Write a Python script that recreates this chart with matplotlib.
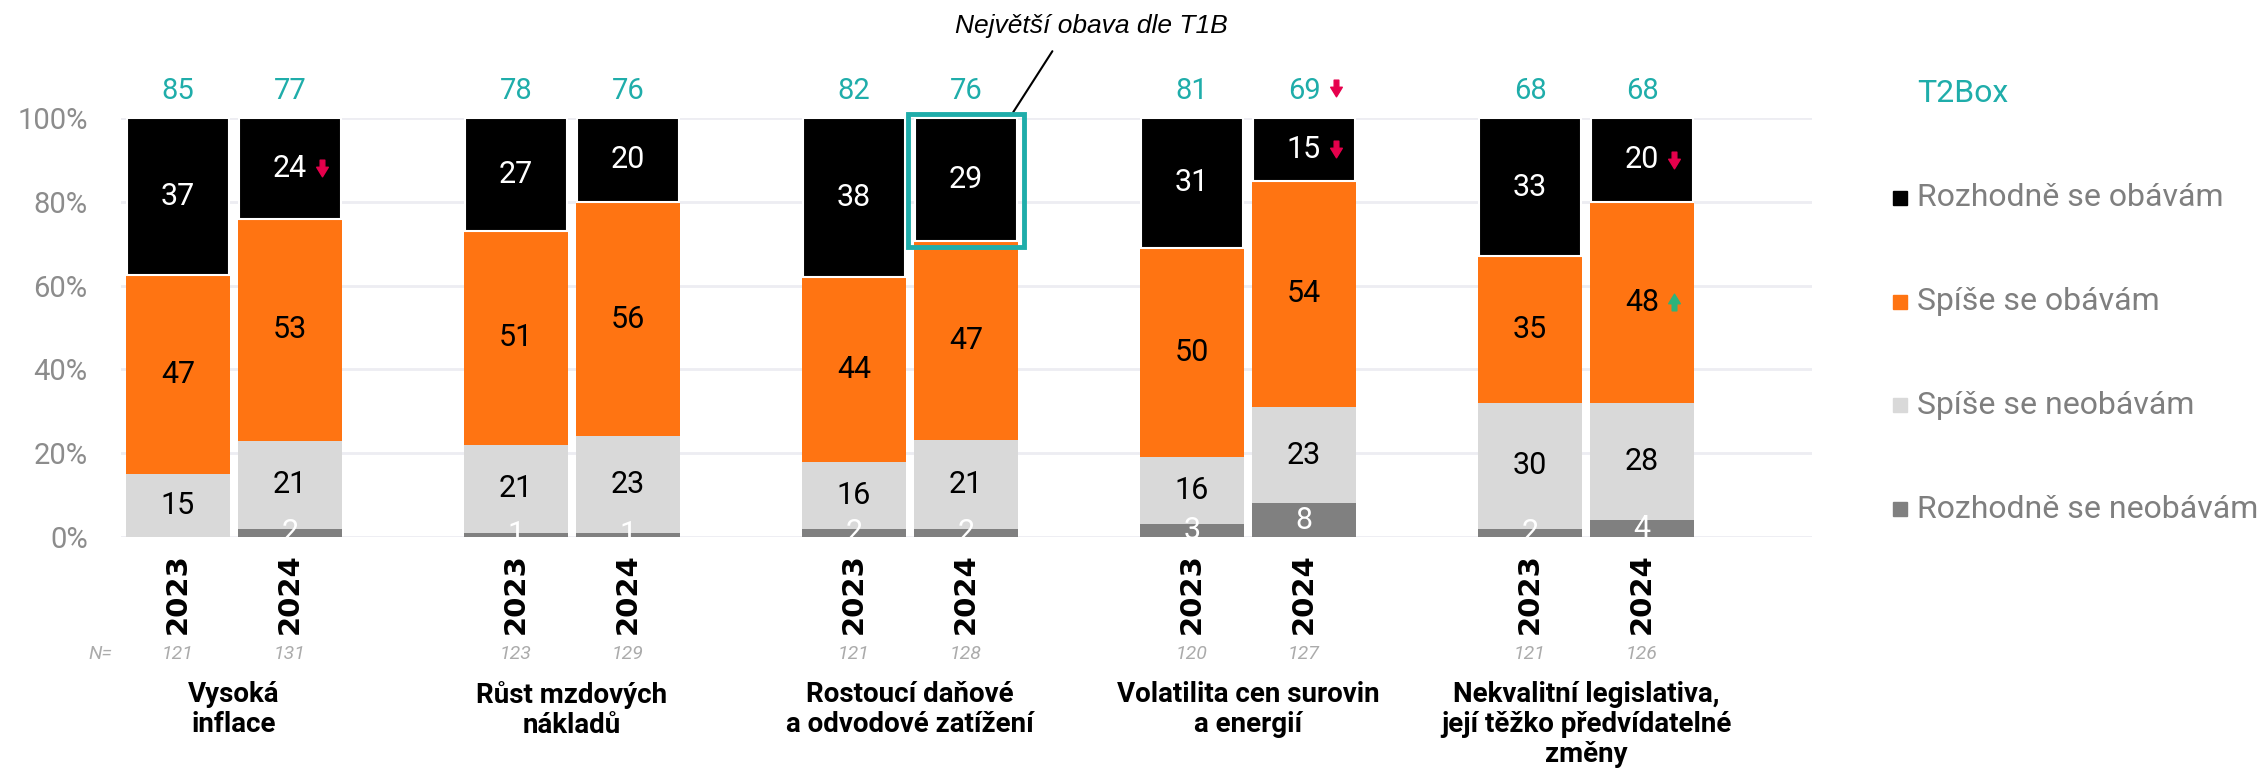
import numpy as np
import matplotlib.pyplot as plt
from matplotlib.patches import Rectangle
from matplotlib.path import Path

# data
categories = ["Vysoká\ninflace", "Růst mzdových\nnákladů", "Rostoucí daňové\na odvodové zatížení",
              "Volatilita cen surovin\na energií", "Nekvalitní legislativa,\njejí těžko předvídatelné\nzměny"]
years = ["2023", "2024"]
series_names = ["Rozhodně se obávám", "Spíše se obávám", "Spíše se neobávám", "Rozhodně se neobávám"]
definitely = [37, 24, 27, 20, 38, 29, 31, 15, 33, 20]
rather = [47, 53, 51, 56, 44, 47, 50, 54, 35, 48]
rather_not = [15, 21, 21, 23, 16, 21, 16, 23, 30, 28]
definitely_not = [0, 2, 1, 1, 2, 2, 3, 8, 2, 4]
t2box = [85, 77, 78, 76, 82, 76, 81, 69, 68, 68]
n_sizes = [121, 131, 123, 129, 121, 128, 120, 127, 121, 126]
# (bar index, which value, direction)
changes = [(1, "definitely", "down"), (7, "definitely", "down"), (7, "t2box", "down"),
           (9, "definitely", "down"), (9, "rather", "up")]
highlight_bar = 5
highlight_text = "Největší obava dle T1B"

# barvy
c_black = "#000000"
c_orange = "#FF7412"
c_lgray = "#D9D9D9"
c_dgray = "#808080"
c_teal = "#1FADAA"
c_red = "#E6004C"
c_green = "#2DB37B"
c_tick = "#8C8C8C"

plt.rcParams['font.family'] = ['Roboto', 'DejaVu Sans']

W, H = 2267, 778
fig = plt.figure(figsize=(W / 100, H / 100), dpi=100)
ax = fig.add_axes([121 / W, 1 - 537 / H, (1812 - 121) / W, 419 / H])

gs = 338.0  # group spacing in px
bw = 102 / gs
off = 56 / gs
x = []
for g in range(len(categories)):
    x += [g - off, g + off]
x = np.array(x)

vals = np.array([definitely_not, rather_not, rather, definitely], dtype=float)
shares = vals / vals.sum(axis=0) * 100
colors = [c_dgray, c_lgray, c_orange, c_black]
txt_colors = ["white", "black", "black", "white"]

bottom = np.zeros(len(x))
centers = {}
for k in range(4):
    if k == 3:
        ax.bar(x, shares[k], bottom=bottom, width=bw, color=colors[k], edgecolor="white", linewidth=1.5, zorder=2)
    else:
        ax.bar(x, shares[k], bottom=bottom, width=bw + 0.004, color=colors[k], linewidth=0, zorder=2)
    mid = bottom + shares[k] / 2
    centers[k] = mid
    for i in range(len(x)):
        if vals[k, i] > 0:
            ax.text(x[i], mid[i], f"{int(vals[k, i])}", ha="center", va="center",
                    color=txt_colors[k], fontsize=22, zorder=4)
    bottom = bottom + shares[k]

ax.set_xlim(-113 / gs, (1812 - 234) / gs)
ax.set_ylim(0, 100)
ax.set_yticks(np.arange(0, 101, 20))
ax.set_yticklabels([f"{v}%" for v in range(0, 101, 20)])
ax.tick_params(axis="y", length=0, pad=24, labelsize=21, labelcolor=c_tick)
ax.set_xticks([])
for s in ax.spines.values():
    s.set_visible(False)
ax.grid(axis="y", color="#EDEDF2", linewidth=2)
ax.set_axisbelow(True)

# T2Box cisla
for i in range(len(x)):
    ax.text(x[i], 106.4, str(t2box[i]), ha="center", va="center", color=c_teal, fontsize=21, clip_on=False)

# sipky
down = Path([(-0.28, 1), (0.28, 1), (0.28, 0.15), (0.7, 0.15), (0, -1), (-0.7, 0.15), (-0.28, 0.15), (-0.28, 1)],
            [Path.MOVETO] + [Path.LINETO] * 6 + [Path.CLOSEPOLY])
up = Path([(vx, -vy) for vx, vy in down.vertices], down.codes)
for i, what, d in changes:
    if what == "definitely":
        yy = centers[3][i]
    elif what == "rather":
        yy = centers[2][i]
    else:
        yy = 107.2
    ax.plot(x[i] + 0.095, yy, marker=down if d == "down" else up, markersize=12, linestyle="none",
            color=c_red if d == "down" else c_green, clip_on=False, zorder=5)

# roky
for i in range(len(x)):
    ax.text(x[i], -13.4, years[i % 2], rotation=90, ha="center", va="center", fontsize=21,
            fontweight="bold", family="DejaVu Sans", clip_on=False)

# N=
ax.text(-0.36, -28, "N=", ha="right", va="center", fontsize=14, style="italic", color="#ABABAB", clip_on=False)
for i in range(len(x)):
    ax.text(x[i], -28, str(n_sizes[i]), ha="center", va="center", fontsize=14, style="italic",
            color="#ABABAB", clip_on=False)

# kategorie
for g, cat in enumerate(categories):
    ax.text(g, -34.3, cat, ha="center", va="top", fontsize=20, fontweight="bold",
            linespacing=1.15, clip_on=False)

# zvyraznena nejvetsi obava
hb = highlight_bar
y0 = 100 - shares[3][hb]
ax.add_patch(Rectangle((x[hb] - bw / 2 - 7 / gs, y0 - 1.6), bw + 14 / gs, 101 - y0 + 1.6,
                       fill=False, edgecolor=c_teal, linewidth=3.5, clip_on=False, zorder=6))
ax.annotate("", xy=(x[hb] + 0.135, 100.8), xytext=(x[hb] + 0.26, 116.5),
            arrowprops=dict(arrowstyle="-", color="black", lw=1.5), annotation_clip=False)
ax.text(x[hb] + 0.37, 122, highlight_text, ha="center", va="center", fontsize=19,
        style="italic", family="Liberation Sans", clip_on=False)

# legenda
fig.text(1917 / W, 1 - 94 / H, "T2Box", ha="left", va="center", fontsize=23, color=c_teal)
leg_y = [198, 302, 405, 509]
leg_cols = [c_black, c_orange, c_lgray, c_dgray]
for name, col, ly in zip(series_names, leg_cols, leg_y):
    fig.add_artist(Rectangle((1893 / W, 1 - (ly + 7) / H), 14 / W, 14 / H, color=col,
                             transform=fig.transFigure))
    fig.text(1917 / W, 1 - ly / H, name, ha="left", va="center", fontsize=23, color="#7F7F7F")

fig.savefig("out.png", dpi=100)
